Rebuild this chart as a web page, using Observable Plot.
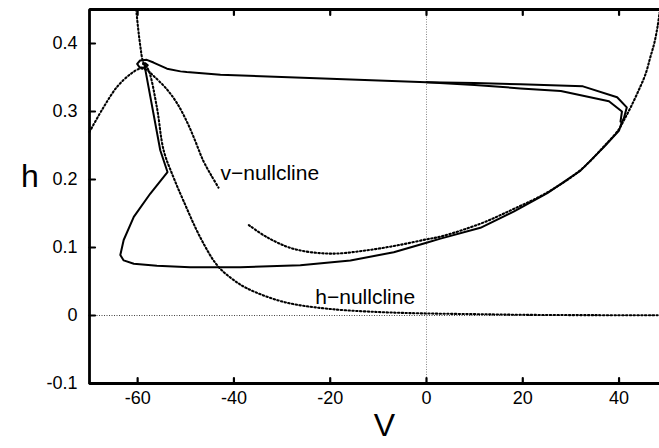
<!DOCTYPE html>
<html>
<head>
<meta charset="utf-8">
<script src="https://cdn.jsdelivr.net/npm/d3@7"></script>
<script src="https://cdn.jsdelivr.net/npm/@observablehq/plot@0.6"></script>
<style>
  html, body { margin: 0; padding: 0; background: #fff; }
  #chart { width: 659px; height: 448px; position: relative; overflow: hidden; }
</style>
</head>
<body>
<div id="chart"></div>
<script>
// Axis ticks and their labels
const xTicks = [-60, -40, -20, 0, 20, 40];
const xTickLabels = ["-60", "-40", "-20", "0", "20", "40"];
const yTicks = [-0.1, 0, 0.1, 0.2, 0.3, 0.4];
const yTickLabels = ["-0.1", "0", "0.1", "0.2", "0.3", "0.4"];

// h-nullcline (membrane potential V, gating variable h)
const hNullV = [-60.3, -59.5, -58.8, -57.7, -56.0, -54.6, -52.6, -50.5, -47.0, -43.5, -40.4, -37.3, -29.7, -20.6, -9.6, 0, 10, 20, 35, 48.4];
const hNullH = [0.450, 0.399, 0.372, 0.360, 0.306, 0.243, 0.204, 0.169, 0.115, 0.074, 0.054, 0.040, 0.020, 0.010, 0.005, 0.003, 0.002, 0.001, 0.0005, 0.0003];

// v-nullcline, left branch (inverted U)
const vNullLeftV = [-70.0, -67.1, -64.3, -61.5, -59.5, -58.1, -56.8, -54.1, -51.8, -49.7, -48.0, -46.4, -44.7, -43.2];
const vNullLeftH = [0.270, 0.306, 0.336, 0.355, 0.363, 0.361, 0.353, 0.334, 0.312, 0.284, 0.256, 0.228, 0.206, 0.188];

// v-nullcline, right branch
const vNullRightV = [-36.9, -33.1, -27.6, -20.0, -12.3, -5.4, 0.0, 2.9, 11.2, 18.2, 25.1, 32.0, 36.9, 40.0, 41.0, 42.4, 44.0, 45.5, 46.5, 47.3, 48.0, 48.4];
const vNullRightH = [0.133, 0.115, 0.098, 0.091, 0.096, 0.104, 0.112, 0.116, 0.135, 0.157, 0.181, 0.214, 0.249, 0.274, 0.287, 0.306, 0.330, 0.355, 0.380, 0.400, 0.425, 0.445];

// Trajectory: kick from rest, spike, return along the top and spiral into rest
const trajV = [-58.6, -55.3, -53.8, -57.4, -60.8, -62.9, -63.6, -62.9, -60.8, -56.0, -49.1, -38.7, -26.2, -15.8, -6.8, 0.0, 2.9, 11.2, 18.2, 25.1, 32.0, 36.9, 40.0, 40.5, 41.0, 41.6, 39.6, 32.5, 19.5, 10.0, 0.0, -20.0, -42.8, -49.8, -51.1, -53.9, -56.7, -58.1, -59.5, -60.1, -59.6, -58.5, -57.9, -58.4, -58.9, -58.6];
const trajH = [0.369, 0.243, 0.211, 0.179, 0.145, 0.111, 0.089, 0.081, 0.076, 0.073, 0.071, 0.071, 0.074, 0.081, 0.093, 0.107, 0.113, 0.129, 0.153, 0.180, 0.213, 0.248, 0.272, 0.283, 0.290, 0.306, 0.321, 0.337, 0.340, 0.342, 0.343, 0.348, 0.354, 0.358, 0.359, 0.363, 0.372, 0.376, 0.375, 0.370, 0.365, 0.364, 0.368, 0.371, 0.370, 0.369];

// Second pass near the peak, rejoining the return path
const trajInnerV = [40.3, 40.6, 37.9, 27.9, 19.5, 10.0, 0.0];
const trajInnerH = [0.285, 0.300, 0.315, 0.330, 0.334, 0.339, 0.343];

const zip = (xs, ys) => xs.map((x, i) => ({V: x, h: ys[i]}));

const xDomain = [-70, 48.4];
const yDomain = [-0.1, 0.45];

// open frame (top, left and bottom edges), traced through the domain corners
const frameEdges = [
  {V: xDomain[1], h: yDomain[1]},
  {V: xDomain[0], h: yDomain[1]},
  {V: xDomain[0], h: yDomain[0]},
  {V: xDomain[1], h: yDomain[0]}
];

// a short straight stroke, used for inward tick marks
const tickShape = {draw(context, l) { context.moveTo(0, 0); context.lineTo(0, -l); }};
const tickLen = 5.5;

const dottedLine = (data) => Plot.line(data, {x: "V", y: "h", stroke: "#000", strokeWidth: 2.1, strokeDasharray: "1.4,2.4", curve: "catmull-rom"});
const solidLine = (data) => Plot.line(data, {x: "V", y: "h", stroke: "#000", strokeWidth: 2});

const chart = Plot.plot({
  width: 659,
  height: 448,
  marginLeft: 89,
  marginRight: 0,
  marginTop: 9,
  marginBottom: 65,
  style: {fontFamily: "'Liberation Sans', Arial, Helvetica, sans-serif", fontSize: "18px"},
  x: {domain: xDomain},
  y: {domain: yDomain},
  marks: [
    // reference lines through the origin
    Plot.ruleX([0], {stroke: "#888", strokeWidth: 1, strokeDasharray: "1,1.5"}),
    Plot.ruleY([0], {stroke: "#444", strokeWidth: 1, strokeDasharray: "1,1.5"}),

    // nullclines
    dottedLine(zip(hNullV, hNullH)),
    dottedLine(zip(vNullLeftV, vNullLeftH)),
    dottedLine(zip(vNullRightV, vNullRightH)),

    // trajectory
    solidLine(zip(trajV, trajH)),
    solidLine(zip(trajInnerV, trajInnerH)),

    // annotations
    Plot.text(["v\u2212nullcline"], {x: -42.8, y: 0.2085, textAnchor: "start", fontSize: 21, fill: "#000"}),
    Plot.text(["h\u2212nullcline"], {x: -23.1, y: 0.0275, textAnchor: "start", fontSize: 21, fill: "#000"}),

    // tick labels
    Plot.axisX(xTicks, {anchor: "bottom", tickSize: 0, tickPadding: 7.5, fill: "#000", tickFormat: d => xTickLabels[xTicks.indexOf(d)], label: null}),
    Plot.axisY(yTicks, {anchor: "left", tickSize: 0, tickPadding: 12, fill: "#000", tickFormat: d => yTickLabels[yTicks.indexOf(d)], label: null}),

    // inward ticks: up from the bottom edge, down from the top edge, right from the left edge
    Plot.vector(xTicks, {x: d => d, y: yDomain[0], rotate: 0, length: tickLen, anchor: "start", shape: tickShape, stroke: "#000", strokeWidth: 2.2}),
    Plot.vector(xTicks, {x: d => d, y: yDomain[1], rotate: 180, length: tickLen, anchor: "start", shape: tickShape, stroke: "#000", strokeWidth: 2.2}),
    Plot.vector(yTicks, {x: xDomain[0], y: d => d, rotate: 90, length: tickLen, anchor: "start", shape: tickShape, stroke: "#000", strokeWidth: 2.2}),

    // frame
    Plot.line(frameEdges, {x: "V", y: "h", stroke: "#000", strokeWidth: 2.8, strokeLinejoin: "miter", strokeLinecap: "square"}),

    // axis titles
    Plot.text(["h"], {frameAnchor: "left", dx: -68.5, dy: -19.5, fontSize: 32, fill: "#000"}),
    Plot.text(["V"], {frameAnchor: "bottom", dx: 10, dy: 52, fontSize: 32, fill: "#000"})
  ]
});

document.getElementById("chart").appendChild(chart);
</script>
</body>
</html>
